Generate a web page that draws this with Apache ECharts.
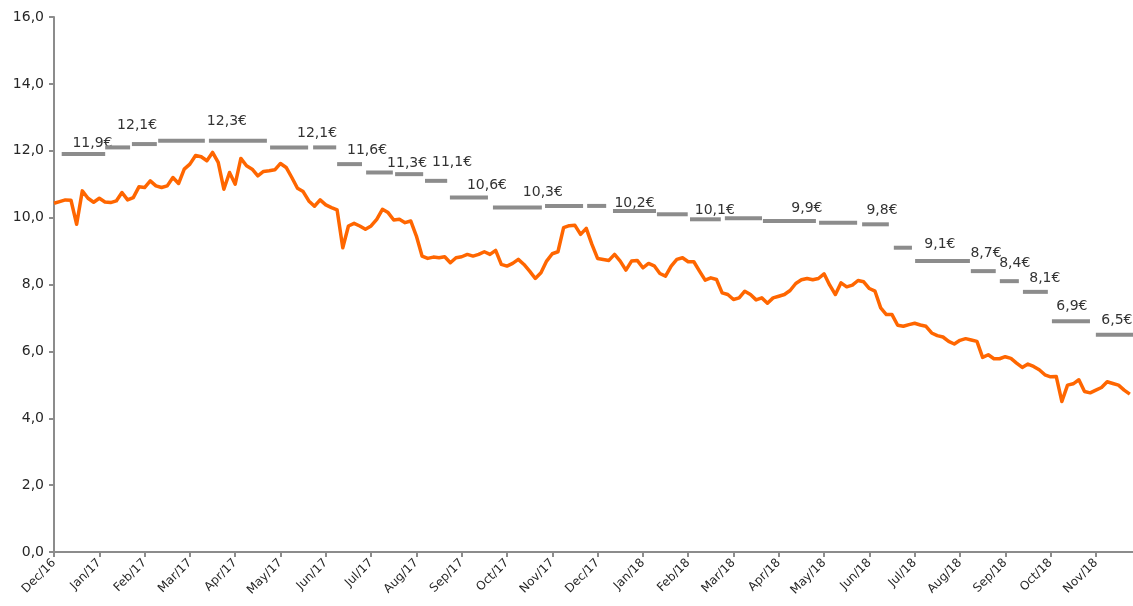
<!DOCTYPE html>
<html>
<head>
<meta charset="utf-8">
<script src="https://cdn.jsdelivr.net/npm/echarts@6/dist/echarts.min.js"></script>
<style>
  html, body { margin: 0; padding: 0; background: #ffffff; }
  #chart { width: 1133px; height: 606px; }
</style>
</head>
<body>
<div id="chart"></div>
<script>
// Month tick labels along the x axis (one per month, starting Dec/16)
const MONTH_LABELS = ['Dec/16', 'Jan/17', 'Feb/17', 'Mar/17', 'Apr/17', 'May/17', 'Jun/17',
  'Jul/17', 'Aug/17', 'Sep/17', 'Oct/17', 'Nov/17', 'Dec/17', 'Jan/18', 'Feb/18', 'Mar/18',
  'Apr/18', 'May/18', 'Jun/18', 'Jul/18', 'Aug/18', 'Sep/18', 'Oct/18', 'Nov/18'];

// Share price (€), sampled every PRICE_STEP months from Dec/16
const PRICE_STEP = 1 / 8;
const PRICE = [
  10.43, 10.48, 10.53, 10.52, 9.80, 10.80, 10.58, 10.46, 10.58, 10.47,
  10.45, 10.50, 10.75, 10.53, 10.60, 10.92, 10.90, 11.10, 10.95, 10.90,
  10.95, 11.20, 11.02, 11.45, 11.60, 11.86, 11.82, 11.70, 11.95, 11.65,
  10.85, 11.35, 11.00, 11.77, 11.55, 11.45, 11.25, 11.38, 11.40, 11.43,
  11.62, 11.50, 11.20, 10.88, 10.78, 10.50, 10.34, 10.53, 10.38, 10.30,
  10.23, 9.10, 9.75, 9.83, 9.75, 9.65, 9.75, 9.95, 10.25, 10.15,
  9.93, 9.95, 9.85, 9.90, 9.45, 8.85, 8.78, 8.82, 8.80, 8.83,
  8.65, 8.80, 8.83, 8.90, 8.85, 8.90, 8.98, 8.90, 9.02, 8.60,
  8.55, 8.63, 8.75, 8.60, 8.40, 8.18, 8.35, 8.70, 8.92, 8.98,
  9.70, 9.76, 9.77, 9.50, 9.68, 9.20, 8.78, 8.75, 8.72, 8.90,
  8.70, 8.43, 8.70, 8.72, 8.50, 8.63, 8.56, 8.33, 8.25, 8.55,
  8.75, 8.80, 8.68, 8.68, 8.40, 8.13, 8.20, 8.15, 7.75, 7.70,
  7.55, 7.60, 7.80, 7.70, 7.54, 7.60, 7.44, 7.60, 7.65, 7.70,
  7.82, 8.03, 8.14, 8.18, 8.14, 8.18, 8.32, 7.98, 7.70, 8.05,
  7.93, 7.98, 8.12, 8.08, 7.88, 7.80, 7.30, 7.10, 7.10, 6.78,
  6.75, 6.80, 6.84, 6.79, 6.75, 6.55, 6.47, 6.43, 6.30, 6.22,
  6.33, 6.38, 6.34, 6.30, 5.82, 5.90, 5.78, 5.78, 5.84, 5.79,
  5.65, 5.52, 5.62, 5.55, 5.45, 5.30, 5.24, 5.25, 4.50, 4.99,
  5.03, 5.15, 4.80, 4.76, 4.84, 4.92, 5.09, 5.04, 4.99, 4.84,
  4.72
];

// Target price periods: start / end (months from Dec/16) and level (€)
const TARGET_FROM = [0.17, 1.13, 1.72, 2.30, 3.42, 4.77, 5.72, 6.25, 6.89, 7.53,
  8.19, 8.74, 9.69, 10.84, 11.77, 12.34, 13.31, 14.04, 14.81, 15.65,
  16.89, 17.84, 18.54, 19.01, 20.24, 20.88, 21.39, 22.03, 23.00];
const TARGET_TO = [1.13, 1.68, 2.27, 3.33, 4.70, 5.61, 6.23, 6.80, 7.48, 8.15,
  8.68, 9.58, 10.77, 11.68, 12.19, 13.29, 13.99, 14.72, 15.63, 16.82,
  17.73, 18.43, 18.94, 20.22, 20.79, 21.30, 21.94, 22.87, 23.82];
const TARGET_VALUE = [11.9, 12.1, 12.2, 12.3, 12.3, 12.1, 12.1, 11.6, 11.35, 11.3,
  11.1, 10.6, 10.3, 10.35, 10.35, 10.2, 10.1, 9.95, 9.98, 9.9,
  9.85, 9.8, 9.1, 8.7, 8.4, 8.1, 7.78, 6.9, 6.5];
// Periods whose level is annotated
const TARGET_LABELLED = [1, 1, 0, 0, 1, 1, 0, 1, 0, 1,
  1, 1, 1, 0, 0, 1, 1, 0, 0, 1,
  0, 1, 1, 1, 1, 1, 0, 1, 1];

// Label placement in pixels relative to the centre of each annotated period
const LABEL_OFFSET = {
  0: [9, -11], 1: [19.5, -22], 4: [-11, -19], 5: [28, -14], 7: [17.5, -14],
  9: [-2, -11], 10: [16, -18], 11: [18, -12.5], 12: [25.5, -15.5], 15: [0, -8],
  16: [42.5, -4], 19: [17.5, -13], 21: [6.5, -14], 22: [37, -3], 23: [43.5, -8],
  24: [31.5, -8], 25: [35.5, -3], 27: [1, -15], 28: [2.5, -14]
};

const FONT = '"DejaVu Sans", Verdana, sans-serif';
const AXIS_GREY = '#8c8c8c';
const fmt1 = v => v.toFixed(1).replace('.', ',');

const chart = echarts.init(document.getElementById('chart'), null, { renderer: 'canvas' });

const targetData = TARGET_FROM.map((f, i) => [f, TARGET_TO[i], TARGET_VALUE[i], TARGET_LABELLED[i]]);
const priceData = PRICE.map((v, i) => [i * PRICE_STEP, v]);

chart.setOption({
  animation: false,
  backgroundColor: '#ffffff',
  grid: { left: 54, right: 0, top: 17, bottom: 54, containLabel: false },
  xAxis: {
    type: 'value',
    min: 0,
    max: 23.82,
    interval: 1,
    splitLine: { show: false },
    axisLine: { show: true, lineStyle: { color: AXIS_GREY, width: 2 } },
    axisTick: { show: true, length: 5, lineStyle: { color: AXIS_GREY, width: 2 } },
    axisLabel: {
      rotate: 45,
      margin: 9,
      color: '#262626',
      fontFamily: FONT,
      fontSize: 12,
      showMaxLabel: false,
      formatter: v => {
        const i = Math.round(v);
        return Math.abs(v - i) < 1e-6 && i < MONTH_LABELS.length ? MONTH_LABELS[i] : '';
      }
    }
  },
  yAxis: {
    type: 'value',
    min: 0,
    max: 16,
    interval: 2,
    splitLine: { show: false },
    axisLine: { show: true, lineStyle: { color: AXIS_GREY, width: 2 } },
    axisTick: { show: true, length: 5, lineStyle: { color: AXIS_GREY, width: 2 } },
    axisLabel: {
      margin: 10,
      color: '#262626',
      fontFamily: FONT,
      fontSize: 14,
      formatter: v => fmt1(v)
    }
  },
  series: [
    {
      name: 'Target price',
      type: 'custom',
      data: targetData,
      encode: { x: [0, 1], y: 2 },
      z: 2,
      renderItem: (params, api) => {
        const v = api.value(2);
        const p0 = api.coord([api.value(0), v]);
        const p1 = api.coord([api.value(1), v]);
        const children = [{
          type: 'line',
          shape: { x1: p0[0], y1: p0[1], x2: p1[0], y2: p1[1] },
          style: { stroke: '#8c8c8c', lineWidth: 4 }
        }];
        if (api.value(3)) {
          const off = LABEL_OFFSET[params.dataIndex] || [0, -14];
          children.push({
            type: 'text',
            x: (p0[0] + p1[0]) / 2 + off[0],
            y: p0[1] + off[1],
            style: {
              text: fmt1(v) + '€',
              fill: '#333333',
              font: '14px ' + FONT,
              align: 'center',
              verticalAlign: 'middle'
            }
          });
        }
        return { type: 'group', children };
      }
    },
    {
      name: 'Share price',
      type: 'line',
      data: priceData,
      showSymbol: false,
      symbol: 'none',
      z: 3,
      lineStyle: { color: '#ff6600', width: 3.5, join: 'round' }
    }
  ]
});
</script>
</body>
</html>
